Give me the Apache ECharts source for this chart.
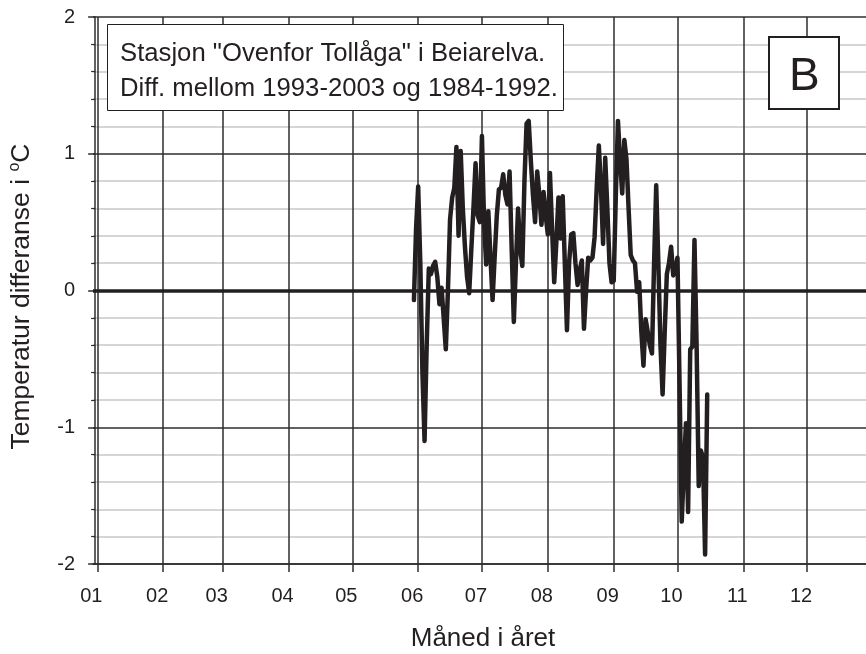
<!DOCTYPE html>
<html>
<head>
<meta charset="utf-8">
<script src="https://cdn.jsdelivr.net/npm/echarts@6/dist/echarts.min.js"></script>
<style>
  html, body { margin: 0; padding: 0; background: #ffffff; }
  #chart { width: 866px; height: 654px; }
</style>
</head>
<body>
<div id="chart"></div>
<script>
// Month labels and the day-of-year on which each month starts
const monthLabels = ['01', '02', '03', '04', '05', '06', '07', '08', '09', '10', '11', '12'];
const monthStartDays = [1, 32, 60, 91, 121, 152, 182, 213, 244, 274, 305, 335];

// Daily temperature difference (°C), first value is for day-of-year 150
const firstDay = 150;
const tempDiff = [
  -0.07, 0.45, 0.76, 0.20, -0.60, -1.10, -0.40, 0.16, 0.12, 0.18,
   0.21, 0.10, -0.10, 0.02, -0.20, -0.43, 0.00, 0.52, 0.68, 0.75,
   1.05, 0.40, 1.02, 0.60, 0.32, 0.10, -0.02, 0.30, 0.60, 0.93,
   0.55, 0.50, 1.13, 0.50, 0.19, 0.58, 0.25, -0.07, 0.25, 0.55,
   0.74, 0.75, 0.85, 0.70, 0.63, 0.87, 0.30, -0.23, 0.20, 0.60,
   0.30, 0.18, 0.80, 1.22, 1.24, 0.95, 0.70, 0.50, 0.87, 0.70,
   0.48, 0.72, 0.55, 0.41, 0.86, 0.45, 0.06, 0.35, 0.68, 0.38,
   0.69, 0.20, -0.29, 0.20, 0.41, 0.42, 0.20, 0.04, 0.15, 0.22,
  -0.28, 0.00, 0.24, 0.22, 0.24, 0.39, 0.75, 1.06, 0.75, 0.34,
   0.97, 0.60, 0.20, 0.06, 0.07, 0.70, 1.24, 0.95, 0.71, 1.10,
   0.96, 0.60, 0.26, 0.22, 0.20, -0.01, 0.06, -0.30, -0.55, -0.21,
  -0.30, -0.40, -0.46, 0.20, 0.77, 0.20, -0.40, -0.76, -0.30, 0.12,
   0.20, 0.32, 0.11, 0.15, 0.24, -0.70, -1.69, -1.30, -0.97, -1.62,
  -0.43, -0.41, 0.37, -0.40, -1.43, -1.17, -1.22, -1.93, -0.76
];

// Annotation texts
const infoLines = ['Stasjon "Ovenfor Tollåga" i Beiarelva.', 'Diff. mellom 1993-2003 og 1984-1992.'];
const panelLetter = 'B';
const xAxisTitle = 'Måned i året';
const yAxisTitle = 'Temperatur differanse i {sup|o}C';

const ink = '#231f20';
const gridDark = '#2e2e2e';
const font = '"Liberation Sans", Arial, sans-serif';

const seriesData = tempDiff.map((v, i) => [firstDay + i, v]);

const chart = echarts.init(document.getElementById('chart'), null, { renderer: 'canvas' });

chart.setOption({
  backgroundColor: '#ffffff',
  animation: false,
  title: [
    {
      text: infoLines.join('\n'),
      left: 107,
      top: 24,
      backgroundColor: '#ffffff',
      borderColor: ink,
      borderWidth: 1,
      padding: [12, 6, 5, 13],
      textStyle: { fontFamily: font, fontSize: 25.7, fontWeight: 'normal', color: ink, lineHeight: 35 },
      z: 10
    },
    {
      text: panelLetter,
      left: 769,
      top: 37,
      backgroundColor: '#ffffff',
      borderColor: ink,
      borderWidth: 2,
      padding: [15, 20, 7, 20],
      textStyle: { fontFamily: font, fontSize: 46, fontWeight: 'normal', color: ink, lineHeight: 50 },
      z: 10
    }
  ],
  // the plot runs a few pixels past the right edge of the canvas
  grid: { left: 93, top: 17, width: 780, height: 547, containLabel: false, outerBoundsMode: 'none' },
  xAxis: {
    type: 'value',
    min: -1,
    max: 366,
    axisLine: { show: true, onZero: false, lineStyle: { color: gridDark, width: 1.5 } },
    axisTick: { show: true, customValues: monthStartDays, length: 8, lineStyle: { color: gridDark, width: 1.5 } },
    axisLabel: {
      customValues: monthStartDays,
      formatter: (v) => monthLabels[monthStartDays.indexOf(v)],
      fontFamily: font, fontSize: 20, color: ink, margin: 22,
      padding: [0, 12, 0, 0]
    },
    splitLine: { show: true, lineStyle: { color: gridDark, width: 1.5 } },
    name: xAxisTitle,
    nameLocation: 'middle',
    nameGap: 62,
    nameTextStyle: { fontFamily: font, fontSize: 26, color: ink }
  },
  yAxis: {
    type: 'value',
    min: -2,
    max: 2,
    interval: 1,
    axisLine: { show: true, lineStyle: { color: gridDark, width: 1.5 } },
    axisTick: { show: true, length: 7, lineStyle: { color: gridDark, width: 1.5 } },
    minorTick: { show: true, splitNumber: 5, length: 4, lineStyle: { color: gridDark, width: 1.2 } },
    axisLabel: { fontFamily: font, fontSize: 20, color: ink, margin: 18 },
    splitLine: { show: true, lineStyle: { color: gridDark, width: 1.5 } },
    minorSplitLine: { show: true, lineStyle: { color: '#c8c8c8', width: 1.5 } },
    name: yAxisTitle,
    nameLocation: 'middle',
    nameGap: 56,
    nameTextStyle: {
      fontFamily: font, fontSize: 26.5, color: ink, lineHeight: 30, padding: [0, 12, 0, 0],
      rich: { sup: { fontFamily: font, fontSize: 16, color: ink, verticalAlign: 'top', lineHeight: 30 } }
    }
  },
  series: [
    {
      type: 'line',
      data: seriesData,
      showSymbol: false,
      symbol: 'none',
      lineStyle: { color: ink, width: 4.5, join: 'round', cap: 'round' },
      z: 5,
      markLine: {
        silent: true,
        symbol: ['none', 'none'],
        label: { show: false },
        lineStyle: { color: ink, width: 3.5, type: 'solid' },
        data: [{ yAxis: 0 }],
        z: 4
      }
    }
  ]
});
</script>
</body>
</html>
